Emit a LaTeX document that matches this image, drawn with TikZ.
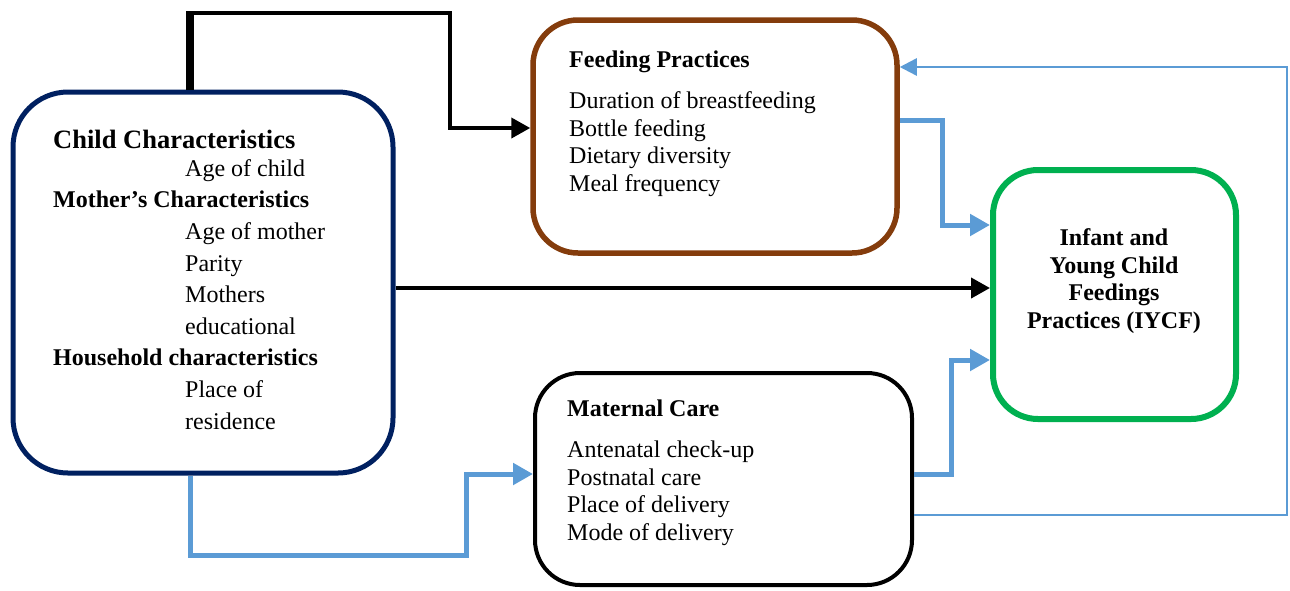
\documentclass[tikz,border=0pt]{standalone}
\usepackage{fontspec}
\setmainfont{Liberation Serif}
\usetikzlibrary{arrows.meta}
\definecolor{navy}{RGB}{0,32,96}
\definecolor{brownbox}{RGB}{132,60,12}
\definecolor{greenbox}{RGB}{0,176,80}
\definecolor{bluearr}{RGB}{91,155,213}

\begin{document}
\begin{tikzpicture}[x=1pt, y=-1pt,
  box/.style={draw, rounded corners=45pt, inner sep=0pt},
  txt/.style={anchor=base west, align=left, inner sep=0pt, font=\fontsize{24}{27.5}\selectfont},
  blk/.style={line width=4pt, -{Triangle[length=19pt,width=20pt]}},
  blu/.style={bluearr, line width=5pt, -{Triangle[length=20pt,width=21pt]}}]
\useasboundingbox (0,0) rectangle (1290,590);
\node[box, navy, line width=5pt, rounded corners=55pt, minimum width=380pt, minimum height=381pt] (child) at (203,282.5) {};
\node[box, brownbox, line width=5.5pt, minimum width=364pt, minimum height=233pt] (feed) at (715,136.5) {};
\node[box, black, line width=4pt, minimum width=377pt, minimum height=212pt] (mat) at (723.5,479) {};
\node[box, greenbox, line width=6pt, minimum width=243pt, minimum height=249pt] (iycf) at (1114.5,294.5) {};
\node[txt, font=\fontsize{24}{31.6}\selectfont] (childtxt) at (53,429)
  {{\fontsize{26.5}{31.6}\selectfont\bfseries Child Characteristics}\\[-3.5pt]
   \hspace*{132pt}Age of child\\
   \textbf{Mother’s Characteristics}\\
   \hspace*{132pt}Age of mother\\
   \hspace*{132pt}Parity\\
   \hspace*{132pt}Mothers\\
   \hspace*{132pt}educational\\
   \textbf{Household characteristics}\\
   \hspace*{132pt}Place of\\
   \hspace*{132pt}residence};
\node[txt] (feedtitle) at (569,67) {\textbf{Feeding Practices}};
\node[txt] (feedtxt) at (569,191)
  {Duration of breastfeeding\\ Bottle feeding\\ Dietary diversity\\ Meal frequency};
\node[txt] (mattitle) at (567,416) {\textbf{Maternal Care}};
\node[txt] (mattxt) at (567,540)
  {Antenatal check-up\\ Postnatal care\\ Place of delivery\\ Mode of delivery};
\node[align=center, inner sep=0pt, font=\fontsize{24}{27.7}\selectfont\bfseries] (iycftxt) at (1114,281)
  {Infant and\\ Young Child\\ Feedings\\ Practices (IYCF)};
\coordinate (topbend) at (190,13);
\draw[line width=8pt] (child.north -| topbend) -- ([yshift=2pt]topbend);
\draw[blk] (topbend) -| (450,128) -- (feed.west |- 0,128);
\draw[blk] (child.east |- 0,288) -- (iycf.west |- 0,288);
\draw[blu] (feed.east |- 0,120) -| (942,225) -- (iycf.west |- 0,225);
\draw[blu] (mat.east |- 0,474) -| (951,360) -- (iycf.west |- 0,360);
\draw[blu, line width=2.5pt, -{Triangle[length=17pt,width=17pt]}] (mat.east |- 0,515) -| (1287,67) -- (feed.east |- 0,67);
\draw[blu] (child.south -| topbend) |- (466,555) |- (mat.west |- 0,474);
\end{tikzpicture}
\end{document}
